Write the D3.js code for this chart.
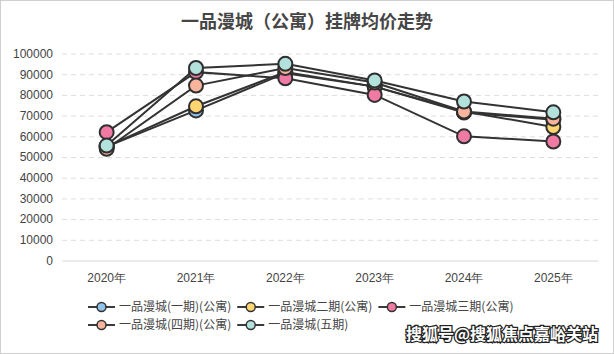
<!DOCTYPE html>
<html>
<head>
<meta charset="utf-8">
<script src="https://cdn.jsdelivr.net/npm/d3@7"></script>
<style>
  html, body { margin: 0; padding: 0; background: #fff; }
  body { overflow: hidden; }
  svg { display: block; font-family: "Noto Sans CJK SC", "Noto Sans", sans-serif; }
</style>
</head>
<body>
<script>
const title = "一品漫城（公寓）挂牌均价走势";
const years = ["2020年", "2021年", "2022年", "2023年", "2024年", "2025年"];
const seriesNames = ["一品漫城(一期)(公寓)", "一品漫城二期(公寓)", "一品漫城三期(公寓)", "一品漫城(四期)(公寓)", "一品漫城(五期)"];
const seriesColors = ["#8fc3ea", "#fdd672", "#f07aa4", "#f8b49c", "#b3e2dc"];
const phase1 = [55000, 72500, 90500, 84000, 71500, 68000];
const phase2 = [55000, 74500, 91000, 84000, 72000, 64500];
const phase3 = [62000, 91000, 88000, 80000, 60000, 57500];
const phase4 = [54000, 84500, 93000, 86000, 72000, 68500];
const phase5 = [55500, 93000, 95000, 87000, 76800, 71600];
const yTicks = [0, 10000, 20000, 30000, 40000, 50000, 60000, 70000, 80000, 90000, 100000];
const watermark = "搜狐号@搜狐焦点嘉峪关站";

const width = 614, height = 354;
const plot = {left: 62, right: 598, top: 53.5, bottom: 260.5};

const svg = d3.select("body").append("svg")
    .attr("width", width)
    .attr("height", height);

svg.append("rect")
    .attr("x", 0.5).attr("y", 0.5)
    .attr("width", width - 1).attr("height", height - 1)
    .attr("fill", "#fff").attr("stroke", "#cfcfcf");

svg.append("text")
    .attr("x", width / 2).attr("y", 28)
    .attr("text-anchor", "middle")
    .style("font-size", "18px").style("font-weight", "700")
    .attr("fill", "#464646")
    .text(title);

const xScale = d3.scaleBand().domain(years).range([plot.left, plot.right]);
const yScale = d3.scaleLinear().domain([0, 100000]).range([plot.bottom, plot.top]);

// y axis + dashed grid
const yAxis = d3.axisLeft(yScale).tickValues(yTicks).tickSize(0).tickPadding(9).tickFormat((d) => d);
const yG = svg.append("g")
    .attr("transform", "translate(" + plot.left + ",0)")
    .call(yAxis);
yG.select(".domain").remove();
yG.selectAll("text").style("font-size", "12px").attr("fill", "#444");
yG.selectAll(".tick").filter((d) => d !== 0).append("line")
    .attr("x1", 0).attr("x2", plot.right - plot.left)
    .attr("stroke", "#dedede").attr("stroke-dasharray", "5,4");

// x axis
const xAxis = d3.axisBottom(xScale).tickSize(0).tickPadding(13);
const xG = svg.append("g")
    .attr("transform", "translate(0," + plot.bottom + ")")
    .call(xAxis);
xG.select(".domain").attr("stroke", "#d6d6d6");
xG.selectAll("text").style("font-size", "12px").attr("fill", "#444");

const series = [phase1, phase2, phase3, phase4, phase5].map((values, i) => ({
    name: seriesNames[i], color: seriesColors[i], values: values
}));

const cx = (i) => xScale(years[i]) + xScale.bandwidth() / 2;
const line = d3.line().x((d, i) => cx(i)).y((d) => yScale(d));

series.forEach((s) => {
    svg.append("path")
        .attr("d", line(s.values))
        .attr("fill", "none")
        .attr("stroke", "#333")
        .attr("stroke-width", 2);
});
series.forEach((s) => {
    svg.append("g").selectAll("circle").data(s.values).enter().append("circle")
        .attr("cx", (d, i) => cx(i))
        .attr("cy", (d) => yScale(d))
        .attr("r", 7)
        .attr("fill", s.color)
        .attr("stroke", "#2f2f2f")
        .attr("stroke-width", 2);
});

// legend, wrapped in rows like the original
const legend = svg.append("g");
const legendLeft = 88, itemW = 27, rowH = 18, maxRight = 560;
let lx = legendLeft, ly = 307;
series.forEach((s) => {
    const item = legend.append("g");
    const t = item.append("text")
        .attr("x", itemW + 4).attr("y", 0).attr("dy", "0.35em")
        .style("font-size", "12px").attr("fill", "#444")
        .text(s.name);
    const w = itemW + 4 + t.node().getComputedTextLength();
    if (lx + w > maxRight) { lx = legendLeft; ly += rowH; }
    item.attr("transform", "translate(" + lx + "," + ly + ")");
    item.append("line")
        .attr("x1", 0).attr("x2", itemW)
        .attr("stroke", "#3a3a3a").attr("stroke-width", 2);
    item.append("circle")
        .attr("cx", itemW / 2).attr("r", 4.5)
        .attr("fill", s.color).attr("stroke", "#333").attr("stroke-width", 1.5);
    lx += w + 6;
});

svg.append("text")
    .attr("x", 598).attr("y", 340)
    .attr("text-anchor", "end")
    .style("font-size", "16px").style("font-weight", "700")
    .attr("fill", "#fff").attr("stroke", "#222").attr("stroke-width", 2.5)
    .attr("paint-order", "stroke")
    .text(watermark);
</script>
</body>
</html>
